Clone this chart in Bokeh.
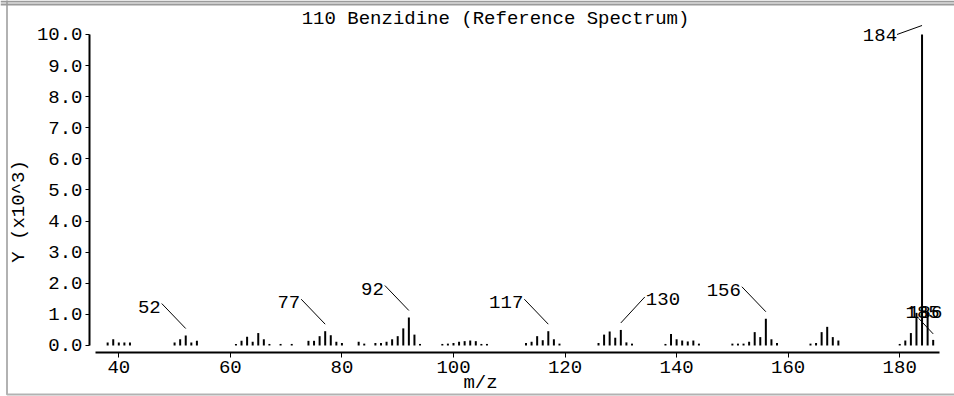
import math
from bokeh.plotting import figure
from bokeh.models import (Range1d, FixedTicker, NumeralTickFormatter, Label,
                          ColumnDataSource, BoxAnnotation)
from bokeh.embed import file_html
from bokeh.resources import INLINE
from bokeh.core.properties import value

# ---------------- data ----------------
title_text = "110 Benzidine (Reference Spectrum)"
x_label = "m/z"
y_label = "Y (x10^3)"

mz = [38, 39, 40, 41, 42,
      50, 51, 52, 53, 54,
      61, 62, 63, 64, 65, 66, 67,
      69, 71,
      74, 75, 76, 77, 78, 79, 80,
      83, 84, 86, 87, 88, 89, 90, 91, 92, 93, 94,
      98, 99, 100, 101, 102, 103, 104, 105, 106,
      113, 114, 115, 116, 117, 118, 119,
      126, 127, 128, 129, 130, 131, 132,
      138, 139, 140, 141, 142, 143, 144,
      150, 151, 152, 153, 154, 155, 156, 157, 158,
      164, 165, 166, 167, 168, 169,
      180, 181, 182, 183, 184, 185, 186]
intensity = [0.10, 0.20, 0.10, 0.10, 0.10,
             0.10, 0.20, 0.32, 0.10, 0.15,
             0.05, 0.15, 0.28, 0.12, 0.40, 0.20, 0.05,
             0.05, 0.05,
             0.15, 0.15, 0.30, 0.46, 0.33, 0.12, 0.08,
             0.12, 0.06, 0.08, 0.08, 0.12, 0.20, 0.30, 0.55, 0.90, 0.35, 0.05,
             0.05, 0.06, 0.08, 0.12, 0.14, 0.16, 0.14, 0.05, 0.05,
             0.08, 0.12, 0.30, 0.17, 0.46, 0.20, 0.06,
             0.08, 0.35, 0.45, 0.25, 0.50, 0.10, 0.06,
             0.05, 0.37, 0.20, 0.16, 0.13, 0.16, 0.06,
             0.06, 0.06, 0.06, 0.12, 0.43, 0.27, 0.86, 0.20, 0.08,
             0.06, 0.08, 0.43, 0.60, 0.27, 0.16,
             0.05, 0.16, 0.40, 1.05, 10.00, 1.10, 0.18]

x_ticks = [40, 60, 80, 100, 120, 140, 160, 180]
y_ticks = [0, 1, 2, 3, 4, 5, 6, 7, 8, 9, 10]
label_mz = [52, 77, 92, 117, 130, 156, 184, 185, 186]

# ---------------- layout / style ----------------
FONT = "Liberation Mono"
FS = "19px"
W, H = 954, 396
XR = (18.79, 189.82)
YR = (-1.640, 11.093)
sx = W / (XR[1] - XR[0])
sy = H / (YR[1] - YR[0])
X_AXIS_AT = -0.225     # data y where the m/z axis line sits
Y_AXIS_AT = 34.75      # data x where the intensity axis line sits

p = figure(width=W, height=H, x_range=Range1d(*XR), y_range=Range1d(*YR),
           output_backend="svg", toolbar_location=None,
           min_border=0, min_border_left=0, min_border_right=0,
           min_border_top=0, min_border_bottom=0)
p.outline_line_color = None
p.xgrid.visible = False
p.ygrid.visible = False
p.background_fill_color = "white"
p.border_fill_color = "white"

for ax in (p.xaxis[0], p.yaxis[0]):
    ax.axis_line_width = 2
    ax.axis_line_color = "black"
    ax.major_tick_line_color = "black"
    ax.major_tick_line_width = 1
    ax.minor_tick_line_color = None
    ax.major_tick_in = 0
    ax.major_label_text_font = FONT
    ax.major_label_text_font_size = FS
    ax.major_label_text_color = "black"

p.xaxis.ticker = FixedTicker(ticks=x_ticks)
p.xaxis.major_tick_out = 5
p.xaxis.major_label_standoff = 4
p.xaxis.bounds = (35.82, 187.13)
p.xaxis.fixed_location = X_AXIS_AT

p.yaxis.ticker = FixedTicker(ticks=y_ticks)
p.yaxis.formatter = NumeralTickFormatter(format="0.0")
p.yaxis.major_tick_out = 4
p.yaxis.major_label_standoff = 3
p.yaxis.bounds = (0, 10)
p.yaxis.fixed_location = Y_AXIS_AT

# peaks
src = ColumnDataSource(dict(x=mz, y0=[0] * len(mz), y1=intensity))
p.segment(x0="x", y0="y0", x1="x", y1="y1", source=src, line_color="black", line_width=2)

# peak labels with leaders; offsets in pixels (dx right, dy up) relative to the peak top
STD = dict(lead=(0, 7, -24, 32), txt=(-25, 29), align="right")
RGT = dict(lead=(0, 7, 24, 33), txt=(25, 31), align="left")
label_style = {
    52: STD, 77: STD, 92: STD, 117: STD, 130: RGT, 156: STD,
    184: dict(lead=(0, 9, -25, 0), txt=(-25, -1), align="right"),
    185: dict(lead=None, txt=(-5, -1), align="center"),
    186: dict(lead=(0, 6, -14.5, 21.5), txt=(-8, 28), align="center"),
}
top = dict(zip(mz, intensity))
lx0, ly0, lx1, ly1 = [], [], [], []
tx, ty, tt, ta = [], [], [], []
for m in label_mz:
    st = label_style[m]
    h = top[m]
    if st["lead"] is not None:
        a, b, c, d = st["lead"]
        lx0.append(m + a / sx); ly0.append(h + b / sy)
        lx1.append(m + c / sx); ly1.append(h + d / sy)
    tx.append(m + st["txt"][0] / sx)
    ty.append(h + st["txt"][1] / sy)
    tt.append(str(m))
    ta.append(st["align"])

p.segment(x0=lx0, y0=ly0, x1=lx1, y1=ly1, line_color="black", line_width=1)
p.text(x="x", y="y", text="t", text_align="a",
       source=ColumnDataSource(dict(x=tx, y=ty, t=tt, a=ta)),
       text_baseline="middle", text_font=value(FONT), text_font_size=value(FS),
       text_color="black")

# title and axis labels (screen units from the frame's bottom-left corner)
p.add_layout(Label(x=495, y=H - 18.5, x_units="screen", y_units="screen",
                   text=title_text, text_align="center", text_baseline="middle",
                   text_font=FONT, text_font_size=FS, text_color="black"))
p.add_layout(Label(x=480, y=H - 382.5, x_units="screen", y_units="screen",
                   text=x_label, text_align="center", text_baseline="middle",
                   text_font=FONT, text_font_size=FS, text_color="black"))
p.add_layout(Label(x=18, y=H - 211, x_units="screen", y_units="screen",
                   text=y_label, text_align="center", text_baseline="middle", angle=math.pi / 2,
                   text_font=FONT, text_font_size=FS, text_color="black"))

# outer frame of the picture: black left/bottom rule, grey double rule on top
p.add_layout(BoxAnnotation(left=6.5, right=W + 20, bottom=H - 394, top=H + 20,
                           left_units="screen", right_units="screen",
                           bottom_units="screen", top_units="screen",
                           fill_color=None, line_color="black", line_width=2))
p.add_layout(BoxAnnotation(left=0, right=W, bottom=H - 2, top=H,
                           left_units="screen", right_units="screen",
                           bottom_units="screen", top_units="screen",
                           fill_color="#9a9a9a", fill_alpha=1, line_color=None))
p.add_layout(BoxAnnotation(left=0, right=W, bottom=H - 5, top=H - 3,
                           left_units="screen", right_units="screen",
                           bottom_units="screen", top_units="screen",
                           fill_color="#9a9a9a", fill_alpha=1, line_color=None))

open("out.html", "w").write(file_html(p, INLINE))
